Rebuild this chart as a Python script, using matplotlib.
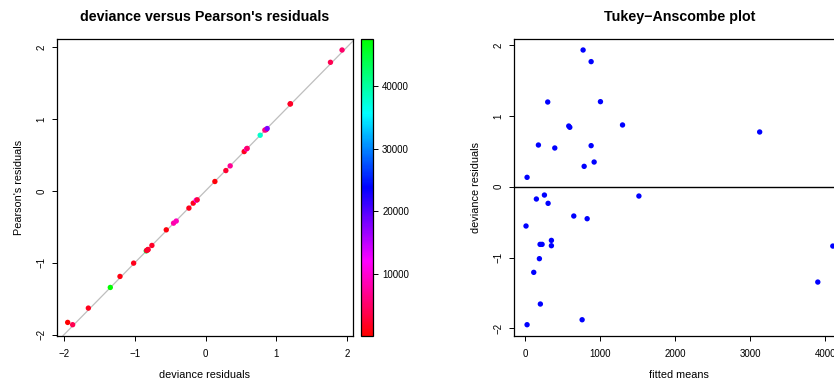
import numpy as np
import matplotlib
matplotlib.use("Agg")
import matplotlib.pyplot as plt
from matplotlib.colors import ListedColormap, Normalize, hsv_to_rgb

plt.rcParams['font.family'] = ['Liberation Sans', 'DejaVu Sans']

# observations: fitted mean, deviance residual, Pearson residual, weight
fitted = [27, 760, 204, 3898, 116, 191, 4098, 351, 200, 227, 351, 13,
          827, 649, 307, 151, 1516, 258, 27, 787, 920, 396, 880, 178,
          3124, 582, 596, 1298, 302, 1004, 880, 773]
devRes = [-1.948, -1.878, -1.656, -1.346, -1.209, -1.016, -0.838, -0.833,
          -0.814, -0.814, -0.758, -0.555, -0.452, -0.414, -0.235, -0.174,
          -0.132, -0.118, 0.132, 0.287, 0.348, 0.546, 0.579, 0.588,
          0.772, 0.856, 0.838, 0.871, 1.195, 1.200, 1.765, 1.929]
pearRes = [-1.829, -1.861, -1.630, -1.343, -1.190, -1.005, -0.835, -0.829,
           -0.815, -0.820, -0.759, -0.542, -0.449, -0.420, -0.240, -0.171,
           -0.130, -0.125, 0.130, 0.282, 0.347, 0.546, 0.583, 0.590,
           0.773, 0.850, 0.845, 0.866, 1.208, 1.210, 1.787, 1.958]
weights = [120, 4000, 1500, 47500, 1000, 1500, 44000, 2000, 1500, 2500,
           2000, 800, 8000, 9000, 1500, 1500, 12000, 3000, 600, 2500,
           7000, 1500, 11000, 5000, 38000, 5000, 6000, 18000, 1500, 2000,
           4000, 5000]
cbTicks = [10000, 20000, 30000, 40000]


def rRange(v):
    lo, hi = min(v), max(v)
    ext = 0.04 * (hi - lo)
    return lo - ext, hi + ext


# red -> magenta -> blue -> cyan -> green
hues = np.linspace(1.0, 1 / 3, 256)
cmap = ListedColormap(hsv_to_rgb(np.column_stack([hues, np.ones(256), np.ones(256)])))
norm = Normalize(vmin=min(weights), vmax=max(weights))

fig = plt.figure(figsize=(8.34, 3.81), dpi=100)
axL = fig.add_axes([0.068, 0.1189, 0.3553, 0.7787])
cax = fig.add_axes([0.4329, 0.1189, 0.0144, 0.7787])
axR = fig.add_axes([0.6160, 0.1189, 0.3973, 0.7787])

tickFs = 7
labFs = 7.8
titleFs = 10.3

# left panel
axL.axline((0, 0), slope=1, color='#BEBEBE', lw=0.9, zorder=1)
axL.scatter(devRes, pearRes, c=weights, cmap=cmap, norm=norm, s=15,
            edgecolors='none', zorder=2)
axL.set_xlim(*rRange(devRes))
axL.set_ylim(*rRange(pearRes))
axL.set_xticks([-2, -1, 0, 1, 2])
axL.set_yticks([-2, -1, 0, 1, 2])
axL.set_title("deviance versus Pearson's residuals", fontsize=titleFs,
              fontweight='bold', pad=13)
axL.set_xlabel("deviance residuals", fontsize=labFs, labelpad=8)
axL.set_ylabel("Pearson's residuals", fontsize=labFs, labelpad=9)

# colour bar
sm = plt.cm.ScalarMappable(cmap=cmap, norm=norm)
cb = fig.colorbar(sm, cax=cax, ticks=cbTicks)
cb.outline.set_linewidth(0.9)
cb.ax.tick_params(labelsize=tickFs, length=3.5, width=0.7, pad=3)

# right panel
axR.axhline(0, color='black', lw=1.0, zorder=1)
axR.scatter(fitted, devRes, color='#0000FF', s=15, edgecolors='none', zorder=2)
axR.set_xlim(*rRange(fitted))
axR.set_ylim(*rRange(devRes))
axR.set_xticks([0, 1000, 2000, 3000, 4000])
axR.set_yticks([-2, -1, 0, 1, 2])
axR.set_title("Tukey\u2212Anscombe plot", fontsize=titleFs, fontweight='bold', pad=13)
axR.set_xlabel("fitted means", fontsize=labFs, labelpad=8)
axR.set_ylabel("deviance residuals", fontsize=labFs, labelpad=9)

for ax in (axL, axR):
    for sp in ax.spines.values():
        sp.set_linewidth(0.9)
    ax.tick_params(labelsize=tickFs, length=3.5, width=0.7)
    ax.tick_params(axis='x', pad=6)
    ax.tick_params(axis='y', labelrotation=90, pad=4)
    for lab in ax.get_yticklabels():
        lab.set_va('center')

fig.savefig("out.png", dpi=100)
